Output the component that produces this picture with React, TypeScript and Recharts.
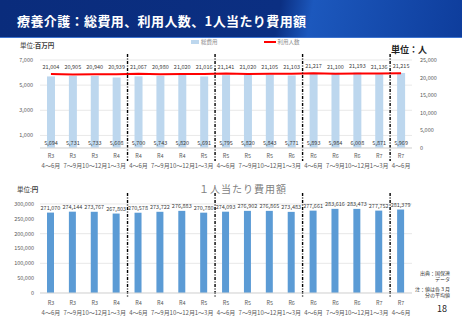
import {
  ComposedChart,
  BarChart,
  Bar,
  Line,
  XAxis,
  YAxis,
  CartesianGrid,
  LabelList,
  ReferenceLine,
} from 'recharts';

// 四半期ごとの区分（令和年度 + 月）
const eras = ['R3', 'R3', 'R3', 'R4', 'R4', 'R4', 'R4', 'R5', 'R5', 'R5', 'R5', 'R6', 'R6', 'R6', 'R6', 'R7', 'R7'];
const months = [
  '4～6月', '7～9月', '10～12月', '1～3月',
  '4～6月', '7～9月', '10～12月', '1～3月',
  '4～6月', '7～9月', '10～12月', '1～3月',
  '4～6月', '7～9月', '10～12月', '1～3月',
  '4～6月',
];

// 総費用（百万円）
const totalCost = [5694, 5731, 5733, 5608, 5700, 5743, 5820, 5691, 5795, 5820, 5843, 5771, 5893, 5984, 6008, 5871, 5969];
// 利用人数（人）
const users = [21004, 20905, 20940, 20939, 21067, 20980, 21020, 21016, 21141, 21020, 21105, 21103, 21217, 21100, 21193, 21136, 21215];
// 1人当たり費用額（円）
const costPerUser = [
  271070, 274144, 273767, 267803, 270578, 273722, 276883, 270780, 274093,
  276902, 276865, 273483, 277661, 283616, 283473, 277752, 281379,
];

const costTicks = [0, 1000, 2000, 3000, 4000, 5000, 6000, 7000];
const userTicks = [0, 5000, 10000, 15000, 20000, 25000];
const perUserTicks = [0, 50000, 100000, 150000, 200000, 250000, 300000];

// 年度の切れ目（カテゴリの間）
const fiscalBreaks = [3.5, 7.5, 11.5, 15.5];

const rows = eras.map((era, i) => ({
  i,
  era,
  month: months[i],
  totalCost: totalCost[i],
  users: users[i],
  costPerUser: costPerUser[i],
}));

const FONT = '"Noto Sans CJK JP", "Noto Sans", sans-serif';
const fmt = (v: any) => Number(v).toLocaleString('en-US');
const indexTicks = rows.map((r) => r.i);

function CategoryTick({ x, y, payload, gap = 8 }: any) {
  const i = payload.value;
  return (
    <g transform={`translate(${x},${y})`}>
      <text y={gap} textAnchor="middle" fontSize={5.5} fill="#595959" fontFamily={FONT}>
        {eras[i]}
      </text>
      <text y={gap + 10} textAnchor="middle" fontSize={6} fill="#595959" fontFamily={FONT}>
        {months[i]}
      </text>
    </g>
  );
}

const tickStyle = { fontSize: 5.5, fill: '#595959', fontFamily: FONT };
const labelStyle = { fontSize: 5.5, fill: '#404040', fontFamily: FONT };

export default function App() {
  return (
    <div style={{ position: 'absolute', left: 0, top: 0, width: 462, height: 320, background: '#fff', overflow: 'hidden', fontFamily: FONT }}>
      {/* header */}
      <div
        style={{
          position: 'absolute',
          left: 0,
          top: 0,
          width: 462,
          height: 37,
          background: 'linear-gradient(100deg, #0a2c7c 0%, #0b2f82 60%, #1c58bd 67%, #0e3d9c 100%)',
          borderBottom: '1px solid #3d74d0',
        }}
      >
        <div style={{ position: 'absolute', left: 17, top: 13, color: '#fff', fontSize: 13, fontWeight: 700, letterSpacing: 0.4, lineHeight: '16px' }}>
          療養介護：総費用、利用人数、1人当たり費用額
        </div>
      </div>

      <div style={{ position: 'absolute', left: 20, top: 40, fontSize: 6.5, color: '#404040' }}>
        単位:<b>百万円</b>
      </div>
      <div style={{ position: 'absolute', left: 391, top: 43, fontSize: 9, color: '#222', fontWeight: 700 }}>
        単位：人
      </div>

      {/* legend */}
      <div style={{ position: 'absolute', left: 191, top: 38, display: 'flex', alignItems: 'center', fontSize: 5.5, color: '#8c8c8c', whiteSpace: 'nowrap' }}>
        <span style={{ display: 'inline-block', width: 8, height: 4, background: '#bdd7ee', marginRight: 2 }} />
        <span style={{ marginRight: 46 }}>総費用</span>
        <span style={{ display: 'inline-block', width: 12, height: 2, background: '#ff0000', marginRight: 2 }} />
        <span>利用人数</span>
      </div>

      {/* 総費用・利用人数 */}
      <div style={{ position: 'absolute', left: 0, top: 35 }}>
        <ComposedChart width={462} height={137} data={rows} margin={{ top: 25, right: 0, bottom: 0, left: 0 }}>
          <CartesianGrid yAxisId="left" vertical={false} stroke="#d9d9d9" strokeWidth={0.6} />
          <XAxis
            dataKey="i"
            type="number"
            domain={[-0.5, 16.5]}
            ticks={indexTicks}
            interval={0}
            tick={<CategoryTick gap={8} />}
            tickLine={false}
            axisLine={{ stroke: '#d9d9d9' }}
            tickSize={0}
            height={24}
          />
          <YAxis
            yAxisId="left"
            domain={[0, 7000]}
            ticks={costTicks}
            tickFormatter={fmt}
            width={40}
            axisLine={false}
            tickLine={false}
            tickSize={0}
            tickMargin={7}
            tick={tickStyle}
          />
          <YAxis
            yAxisId="right"
            orientation="right"
            domain={[0, 25000]}
            ticks={userTicks}
            tickFormatter={fmt}
            width={50}
            axisLine={false}
            tickLine={false}
            tickSize={0}
            tickMargin={8}
            tick={tickStyle}
          />
          <Bar yAxisId="left" dataKey="totalCost" name="総費用" fill="#bdd7ee" barSize={8} isAnimationActive={false}>
            <LabelList dataKey="totalCost" position="insideBottom" offset={3} formatter={fmt} style={labelStyle} />
          </Bar>
          <Line
            yAxisId="right"
            dataKey="users"
            name="利用人数"
            type="linear"
            stroke="#ff0000"
            strokeWidth={2}
            dot={false}
            isAnimationActive={false}
          >
            <LabelList dataKey="users" position="top" offset={5} formatter={fmt} style={labelStyle} />
          </Line>
          {fiscalBreaks.map((b) => (
            <ReferenceLine
              key={b}
              yAxisId="left"
              segment={[{ x: b, y: 7480 }, { x: b, y: -1030 }]}
              ifOverflow="visible"
              stroke="#000"
              strokeWidth={1.4}
              strokeDasharray="3 1.5 1 1.5"
            />
          ))}
        </ComposedChart>
      </div>

      <div style={{ position: 'absolute', left: 17, top: 184, fontSize: 6.5, color: '#404040' }}>
        単位:<b>円</b>
      </div>
      <div style={{ position: 'absolute', left: 199, top: 181, fontSize: 10, color: '#7f7f7f', letterSpacing: 1 }}>
        １人当たり費用額
      </div>

      {/* 1人当たり費用額 */}
      <div style={{ position: 'absolute', left: 0, top: 180 }}>
        <BarChart width={462} height={139} data={rows} margin={{ top: 24, right: 50, bottom: 0, left: 0 }}>
          <CartesianGrid vertical={false} stroke="#d9d9d9" strokeWidth={0.6} />
          <XAxis
            dataKey="i"
            type="number"
            domain={[-0.5, 16.5]}
            ticks={indexTicks}
            interval={0}
            tick={<CategoryTick gap={10} />}
            tickLine={false}
            axisLine={{ stroke: '#d9d9d9' }}
            tickSize={0}
            height={26}
          />
          <YAxis
            domain={[0, 300000]}
            ticks={perUserTicks}
            tickFormatter={fmt}
            width={40}
            axisLine={false}
            tickLine={false}
            tickSize={0}
            tickMargin={6}
            tick={tickStyle}
          />
          <Bar dataKey="costPerUser" name="1人当たり費用額" fill="#5b9bd5" barSize={7} isAnimationActive={false}>
            <LabelList dataKey="costPerUser" position="top" offset={3} formatter={fmt} style={labelStyle} />
          </Bar>
          {fiscalBreaks.map((b) => (
            <ReferenceLine
              key={b}
              segment={[{ x: b, y: 337000 }, { x: b, y: -17000 }]}
              ifOverflow="visible"
              stroke="#000"
              strokeWidth={1.4}
              strokeDasharray="3 1.5 1 1.5"
            />
          ))}
        </BarChart>
      </div>

      <div style={{ position: 'absolute', right: 12, top: 270, fontSize: 5, color: '#333', textAlign: 'right', lineHeight: '6px', whiteSpace: 'nowrap' }}>
        出典：国保連
        <br />
        データ
      </div>
      <div style={{ position: 'absolute', right: 12, top: 286, fontSize: 5, color: '#333', textAlign: 'right', lineHeight: '6px', whiteSpace: 'nowrap' }}>
        注：値は各３月
        <br />
        分の平均値
      </div>
      <div style={{ position: 'absolute', left: 437, top: 302, fontSize: 9, color: '#222' }}>18</div>
    </div>
  );
}
